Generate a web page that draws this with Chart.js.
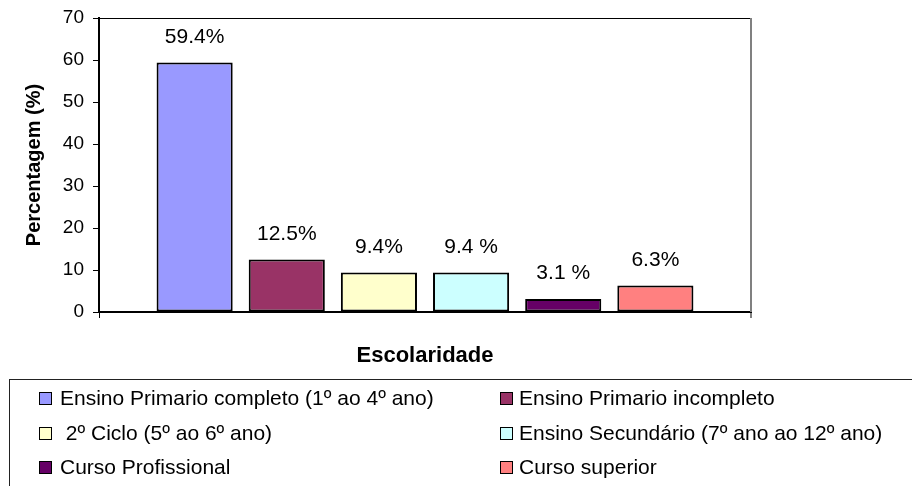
<!DOCTYPE html>
<html>
<head>
<meta charset="utf-8">
<script src="https://cdn.jsdelivr.net/npm/chart.js@4"></script>
<style>
  body { margin: 0; background: #fff; }
  #wrap { position: relative; width: 912px; height: 486px; overflow: hidden; font-family: 'Liberation Sans', Arial, sans-serif; }
  #chart { position: absolute; left: 0; top: 0; }
  #legend { position: absolute; left: 9px; top: 379px; width: 940px; height: 130px; border: 1px solid #222; }
  .item { position: absolute; height: 24px; line-height: 24px; font-size: 21px; color: #000; white-space: pre; }
  .box { position: absolute; left: 0; top: 6px; width: 11px; height: 11px; border: 1px solid #000; }
  .txt { position: absolute; }
</style>
</head>
<body>
<div id="wrap">
  <canvas id="chart" width="912" height="486"></canvas>
  <div id="legend"></div>
</div>
<script>
const categories = [
  'Ensino Primario completo (1º ao 4º ano)',
  'Ensino Primario incompleto',
  ' 2º Ciclo (5º ao 6º ano)',
  'Ensino Secundário (7º ano ao 12º ano)',
  'Curso Profissional',
  'Curso superior'
];
const values = [59.4, 12.5, 9.4, 9.4, 3.1, 6.3];
const valueLabels = ['59.4%', '12.5%', '9.4%', '9.4 %', '3.1 %', '6.3%'];
const colors = ['#9999FF', '#993366', '#FFFFCC', '#CCFFFF', '#660066', '#FF8080'];
const yTicks = [0, 10, 20, 30, 40, 50, 60, 70];

const FONT = "'Liberation Sans', Arial, sans-serif";

// html legend, two columns
const legend = document.getElementById('legend');
categories.forEach((c, i) => {
  const col = i % 2, row = Math.floor(i / 2);
  const el = document.createElement('div');
  el.className = 'item';
  el.style.left = (col === 0 ? 29 : 490) + 'px';
  el.style.top = (6 + row * 34.5) + 'px';
  el.innerHTML = `<span class="box" style="background:${colors[i]}"></span><span class="txt" style="left:${col === 0 ? 21 : 19}px">${c}</span>`;
  legend.appendChild(el);
});

const frame = {
  id: 'frame',
  afterDraw(chart) {
    const { ctx, chartArea: a } = chart;
    ctx.save();
    ctx.lineWidth = 1;
    ctx.strokeStyle = '#000';
    ctx.beginPath();
    ctx.moveTo(a.left, a.top + 0.5);
    ctx.lineTo(a.right, a.top + 0.5);
    ctx.stroke();
    ctx.strokeStyle = '#808080';
    ctx.lineWidth = 2;
    ctx.beginPath();
    ctx.moveTo(a.right, a.top);
    ctx.lineTo(a.right, a.bottom);
    ctx.stroke();
    ctx.restore();
  }
};

const barLabels = {
  id: 'barLabels',
  afterDatasetsDraw(chart) {
    const ctx = chart.ctx;
    ctx.save();
    ctx.font = '21px ' + FONT;
    ctx.fillStyle = '#000';
    ctx.textAlign = 'center';
    ctx.textBaseline = 'alphabetic';
    chart.data.datasets.forEach((ds, i) => {
      const bar = chart.getDatasetMeta(i).data[0];
      ctx.fillText(valueLabels[i], bar.x, bar.y - 20);
    });
    ctx.restore();
  }
};

new Chart(document.getElementById('chart'), {
  type: 'bar',
  data: {
    labels: [''],
    datasets: categories.map((c, i) => ({
      label: c,
      data: [values[i]],
      backgroundColor: colors[i],
      borderColor: '#000',
      borderWidth: 2,
      borderSkipped: false,
      categoryPercentage: 0.848,
      barPercentage: 0.826
    }))
  },
  options: {
    responsive: false,
    animation: false,
    layout: { padding: { left: 0, top: 18, right: 161, bottom: 108 } },
    plugins: { legend: { display: false }, tooltip: { enabled: false } },
    scales: {
      x: {
        grid: {
          drawOnChartArea: false,
          tickLength: 6,
          color: (c) => c.index === 0 ? '#000' : '#808080',
          lineWidth: (c) => c.index === 0 ? 1 : 2
        },
        border: { color: '#000', width: 2 },
        ticks: { display: false },
        title: {
          display: true,
          text: 'Escolaridade',
          font: { family: FONT, size: 22, weight: 'bold' },
          color: '#000',
          padding: { top: 0, bottom: 9 }
        },
        afterFit(scale) { scale.height = 66; }
      },
      y: {
        min: 0,
        max: 70,
        afterBuildTicks(scale) { scale.ticks = yTicks.map(v => ({ value: v })); },
        grid: { drawOnChartArea: false, tickLength: 6, color: '#000' },
        border: { color: '#000', width: 2 },
        ticks: { color: '#000', padding: 9, font: { family: FONT, size: 19, lineHeight: 0.9 } },
        title: {
          display: true,
          text: 'Percentagem (%)',
          font: { family: FONT, size: 20, weight: 'bold' },
          color: '#000',
          padding: { top: 22, bottom: 0 }
        },
        afterFit(scale) { scale.width = 99; }
      }
    }
  },
  plugins: [frame, barLabels]
});
</script>
</body>
</html>
